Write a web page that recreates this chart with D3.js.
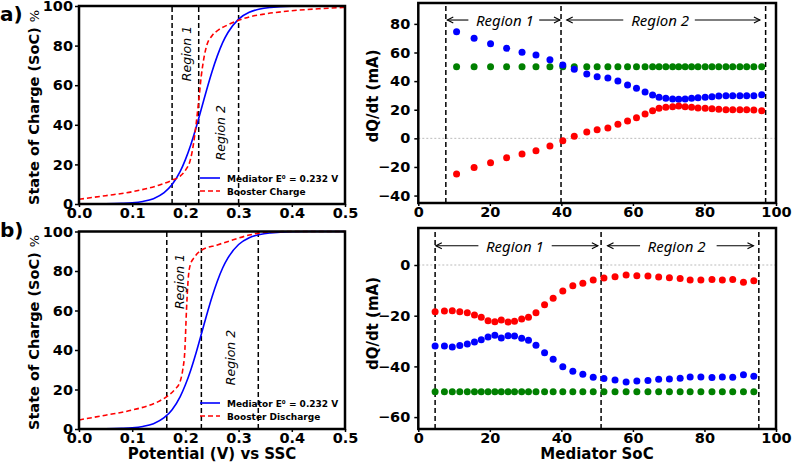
<!DOCTYPE html>
<html>
<head>
<meta charset="utf-8">
<script src="https://cdn.jsdelivr.net/npm/d3@7"></script>
<style>
  body { margin: 0; background: #fff; }
  text { font-family: "DejaVu Sans", sans-serif; }
</style>
</head>
<body>
<div id="plot"></div>
<script>
// ---- left panels: SoC vs potential ----
const mediatorV   = [0, 0.05, 0.08, 0.10, 0.12, 0.14, 0.16, 0.175, 0.19, 0.20, 0.21, 0.22, 0.232, 0.24, 0.25, 0.26, 0.27, 0.28, 0.30, 0.32, 0.34, 0.36, 0.40, 0.45, 0.50];
const mediatorSoC = [0, 0.1, 0.3, 0.6, 1.3, 2.7, 5.7, 9.8, 16.3, 22.4, 29.8, 38.5, 50, 57.7, 66.8, 74.8, 81.5, 86.6, 93.4, 96.8, 98.5, 99.3, 99.9, 100, 100];

const chargeV   = [0, 0.05, 0.10, 0.15, 0.175, 0.19, 0.20, 0.21, 0.215, 0.22, 0.225, 0.23, 0.235, 0.24, 0.25, 0.26, 0.28, 0.30, 0.32, 0.35, 0.40, 0.45, 0.50];
const chargeSoC = [2.4, 4.2, 6.2, 9.5, 12, 14, 17, 23, 30, 40, 52, 65, 74, 80, 85, 87.5, 90.5, 92.8, 94.5, 96, 97.6, 98.6, 99.3];

const dischargeV   = [0, 0.05, 0.10, 0.15, 0.165, 0.18, 0.19, 0.195, 0.199, 0.202, 0.205, 0.209, 0.217, 0.23, 0.26, 0.29, 0.32, 0.35, 0.40, 0.50];
const dischargeSoC = [4.6, 7, 9.6, 14, 16.4, 20, 24, 30, 40, 60, 75, 83, 87, 90.5, 93.2, 95.8, 98.2, 99.6, 100, 100];

const regionLinesA = [0.175, 0.225, 0.30];
const regionLinesB = [0.165, 0.23, 0.337];

// ---- right panels: dQ/dt vs mediator SoC ----
const socA      = [10.7, 15.6, 20.2, 24.7, 29.0, 32.9, 36.8, 40.4, 43.6, 47.1, 50.0, 53.0, 55.8, 58.5, 61.0, 63.4, 65.5, 67.3, 69.2, 71.1, 72.8, 74.6, 76.4, 78.2, 80.2, 82.1, 84.0, 86.0, 87.9, 89.9, 91.8, 93.8, 96.0];
const mediatorA = [74.5, 69.9, 66.2, 62.9, 60.1, 58.3, 55.0, 51.3, 48.3, 45.0, 43.1, 42.2, 40.1, 37.3, 35.0, 32.4, 30.3, 28.7, 28.0, 27.5, 27.3, 27.5, 28.0, 28.4, 28.7, 29.1, 29.6, 29.8, 29.8, 29.8, 29.8, 29.8, 30.5];
const boosterA  = [-24.9, -20.3, -17.0, -13.5, -10.9, -8.6, -5.4, -1.7, 1.4, 4.4, 6.0, 7.2, 9.8, 12.1, 14.4, 17.0, 19.3, 21.0, 21.7, 22.1, 22.6, 22.1, 21.7, 21.2, 21.0, 20.7, 20.3, 20.0, 20.0, 20.0, 20.0, 19.8, 19.3];
const totalA    = [50, 50, 50, 50, 50, 50, 50, 50, 50, 50, 50, 50, 50, 50, 50, 50, 50, 50, 50, 50, 50, 50, 50, 50, 50, 50, 50, 50, 50, 50, 50, 50, 50];

const socB      = [4.7, 7.3, 9.5, 11.6, 13.7, 15.7, 17.6, 19.5, 21.4, 23.2, 25.1, 26.9, 28.9, 30.8, 32.9, 35.3, 37.7, 40.4, 43.2, 46.0, 48.9, 51.9, 55.0, 58.1, 61.1, 64.2, 67.2, 70.2, 73.2, 76.0, 79.0, 82.1, 85.0, 87.9, 90.9, 93.8];
const mediatorB = [-32.0, -32.0, -32.3, -31.8, -31.2, -30.4, -29.5, -28.4, -27.7, -28.8, -27.9, -28.0, -28.9, -29.7, -31.7, -34.6, -37.2, -40.1, -41.9, -43.1, -44.3, -44.8, -45.4, -46.2, -45.8, -45.6, -45.1, -45.0, -44.7, -44.2, -44.2, -44.4, -44.2, -44.3, -43.3, -43.9];
const boosterB  = [-18.4, -18.1, -18.0, -18.4, -18.8, -19.7, -20.6, -22.0, -22.4, -21.7, -22.5, -22.2, -21.3, -20.6, -18.8, -15.7, -13.1, -10.3, -8.2, -7.2, -5.9, -5.1, -4.6, -3.9, -4.2, -4.3, -4.7, -5.0, -5.3, -5.9, -5.9, -5.7, -5.9, -5.7, -6.8, -6.2];
const totalB    = [-50, -50, -50, -50, -50, -50, -50, -50, -50, -50, -50, -50, -50, -50, -50, -50, -50, -50, -50, -50, -50, -50, -50, -50, -50, -50, -50, -50, -50, -50, -50, -50, -50, -50, -50, -50];

const boundsA = [7.7, 39.9, 97.1];
const boundsB = [4.7, 51.1, 95.2];

// region arrows (SoC units): [tail, tip]
const arrowsA = [[14.0, 8.1], [33.8, 39.6], [57.3, 41.5], [77.3, 95.5]];
const arrowsB = [[16.8, 4.9], [37.3, 50.2], [62.0, 52.9], [83.4, 93.7]];
const regionTextA = [["Region 1", 24.2], ["Region 2", 67.6]];
const regionTextB = [["Region 1", 27.0], ["Region 2", 72.2]];

const width = 792;
const height = 467;

const svg = d3.select("#plot")
  .append("svg")
  .attr("width", width)
  .attr("height", height);

svg.append("rect").attr("width", width).attr("height", height).attr("fill", "#fff");

// scales
const xL = d3.scaleLinear().domain([0, 0.5]).range([79, 345]);
const yLtop = d3.scaleLinear().domain([0, 100]).range([204, 6]);
const yLbot = d3.scaleLinear().domain([0, 100]).range([429, 231.5]);

const xR = d3.scaleLinear().domain([0, 100]).range([418.3, 776]);
const yRtop = d3.scaleLinear().domain([-45.2, 94.6]).range([203, 3]);
const yRbot = d3.scaleLinear().domain([-64.7, 14.6]).range([429, 228]);

function styleAxis(g) {
  g.selectAll("path").remove();
  g.selectAll("line").attr("stroke", "#000").attr("stroke-width", 1.5);
  g.selectAll("text")
    .attr("fill", "#000")
    .style("font-family", "DejaVu Sans")
    .style("font-weight", "bold")
    .style("font-size", "14.5px");
}

function frame(x, y) {
  svg.append("rect")
    .attr("x", x.range()[0])
    .attr("y", y.range()[1])
    .attr("width", x.range()[1] - x.range()[0])
    .attr("height", y.range()[0] - y.range()[1])
    .attr("fill", "none")
    .attr("stroke", "#000")
    .attr("stroke-width", 2.5);
}

// ---------- left panels ----------
function socPanel(y, boosterV, boosterSoC, lines, boosterName, regionPos, labelStart) {
  const bottom = y.range()[0];

  svg.append("g")
    .attr("transform", `translate(0,${bottom})`)
    .call(d3.axisBottom(xL).tickValues([0, 0.1, 0.2, 0.3, 0.4, 0.5]).tickFormat(d3.format(".1f")).tickSize(3).tickPadding(1))
    .call(styleAxis);

  svg.append("g")
    .attr("transform", `translate(${xL.range()[0]},0)`)
    .call(d3.axisLeft(y).tickValues([0, 20, 40, 60, 80, 100]).tickSize(4).tickPadding(2))
    .call(styleAxis);

  // region boundaries
  svg.append("g").selectAll("line")
    .data(lines)
    .join("line")
    .attr("x1", d => xL(d)).attr("x2", d => xL(d))
    .attr("y1", y(0)).attr("y2", y(100))
    .attr("stroke", "#000")
    .attr("stroke-width", 1.5)
    .attr("stroke-dasharray", "5,3");

  const line = d3.line().curve(d3.curveMonotoneX);

  svg.append("path")
    .attr("d", line(mediatorV.map((v, i) => [xL(v), y(mediatorSoC[i])])))
    .attr("fill", "none")
    .attr("stroke", "#0000ff")
    .attr("stroke-width", 1.6);

  svg.append("path")
    .attr("d", line(boosterV.map((v, i) => [xL(v), y(boosterSoC[i])])))
    .attr("fill", "none")
    .attr("stroke", "#ff0000")
    .attr("stroke-width", 1.6)
    .attr("stroke-dasharray", "5,3");

  // region labels
  regionPos.forEach(([t, v, s]) => {
    svg.append("text")
      .attr("transform", `translate(${xL(v)},${y(s)}) rotate(-90)`)
      .attr("text-anchor", "middle")
      .attr("dominant-baseline", "central")
      .style("font-style", "italic")
      .style("font-size", "12.5px")
      .text(t);
  });

  // legend
  const lg = svg.append("g").attr("transform", `translate(200,${bottom - 26})`);
  lg.append("line").attr("x1", 0).attr("x2", 20).attr("y1", 0).attr("y2", 0)
    .attr("stroke", "#0000ff").attr("stroke-width", 1.6);
  lg.append("line").attr("x1", 0).attr("x2", 20).attr("y1", 13).attr("y2", 13)
    .attr("stroke", "#ff0000").attr("stroke-width", 1.6).attr("stroke-dasharray", "5,3");
  lg.append("text").attr("x", 27).attr("y", 3.5)
    .style("font-size", "9px").style("font-weight", "bold")
    .text("Mediator E⁰ = 0.232 V");
  lg.append("text").attr("x", 27).attr("y", 16.5)
    .style("font-size", "9px").style("font-weight", "bold")
    .text(boosterName);

  // y label
  const yl = svg.append("text")
    .attr("transform", `translate(39,${labelStart}) rotate(-90)`)
    .style("font-size", "14.5px")
    .style("font-weight", "bold");
  yl.append("tspan").text("State of Charge (SoC) ");
  yl.append("tspan").style("font-weight", "normal").style("font-size", "13px").text("%");

  frame(xL, y);
}

socPanel(yLtop, chargeV, chargeSoC, regionLinesA, "Booster Charge",
  [["Region 1", 0.202, 76], ["Region 2", 0.266, 36]], 205);
socPanel(yLbot, dischargeV, dischargeSoC, regionLinesB, "Booster Discharge",
  [["Region 1", 0.189, 74.7], ["Region 2", 0.2845, 36.2]], 430);

// ---------- right panels ----------
function ratePanel(y, ticks, soc, med, boost, total, bounds, arrows, texts, arrowY, labelY) {
  const bottom = y.range()[0];
  const top = y.range()[1];

  svg.append("g")
    .attr("transform", `translate(0,${bottom})`)
    .call(d3.axisBottom(xR).tickValues([0, 20, 40, 60, 80, 100]).tickSize(3).tickPadding(1))
    .call(styleAxis);

  svg.append("g")
    .attr("transform", `translate(${xR.range()[0]},0)`)
    .call(d3.axisLeft(y).tickValues(ticks).tickSize(4).tickPadding(4))
    .call(styleAxis);

  // zero line
  svg.append("line")
    .attr("x1", xR(0)).attr("x2", xR(100))
    .attr("y1", y(0)).attr("y2", y(0))
    .attr("stroke", "#bbb")
    .attr("stroke-width", 1)
    .attr("stroke-dasharray", "2,2");

  svg.append("g").selectAll("line")
    .data(bounds)
    .join("line")
    .attr("x1", d => xR(d)).attr("x2", d => xR(d))
    .attr("y1", bottom).attr("y2", top)
    .attr("stroke", "#000")
    .attr("stroke-width", 1.5)
    .attr("stroke-dasharray", "5,3");

  const series = [[total, "#008000"], [med, "#0000ff"], [boost, "#ff0000"]];
  series.forEach(([vals, col]) => {
    svg.append("g").selectAll("circle")
      .data(vals)
      .join("circle")
      .attr("cx", (d, i) => xR(soc[i]))
      .attr("cy", d => y(d))
      .attr("r", 3.5)
      .attr("fill", col);
  });

  // region arrows
  const ay = y(arrowY);
  arrows.forEach(([tail, tip]) => {
    const x0 = xR(tail), x1 = xR(tip);
    const dir = x1 > x0 ? -1 : 1;
    svg.append("line")
      .attr("x1", x0).attr("x2", x1).attr("y1", ay).attr("y2", ay)
      .attr("stroke", "#000").attr("stroke-width", 1.1);
    svg.append("path")
      .attr("d", `M${x1 + dir * 6},${ay - 3}L${x1},${ay}L${x1 + dir * 6},${ay + 3}`)
      .attr("fill", "none").attr("stroke", "#000").attr("stroke-width", 1.1);
  });

  texts.forEach(([t, v]) => {
    svg.append("text")
      .attr("x", xR(v))
      .attr("y", ay)
      .attr("text-anchor", "middle")
      .attr("dominant-baseline", "central")
      .style("font-family", "Noto Sans")
      .style("font-style", "italic")
      .style("font-size", "15px")
      .text(t);
  });

  svg.append("text")
    .attr("transform", `translate(378,${labelY}) rotate(-90)`)
    .attr("text-anchor", "middle")
    .style("font-size", "15px")
    .style("font-weight", "bold")
    .text("dQ/dt (mA)");

  frame(xR, y);
}

ratePanel(yRtop, [-40, -20, 0, 20, 40, 60, 80], socA, mediatorA, boosterA, totalA,
  boundsA, arrowsA, regionTextA, 82.7, 96);
ratePanel(yRbot, [-60, -40, -20, 0], socB, mediatorB, boosterB, totalB,
  boundsB, arrowsB, regionTextB, 7.6, 323.5);

// x labels
svg.append("text")
  .attr("x", 212).attr("y", 459)
  .attr("text-anchor", "middle")
  .style("font-size", "15px").style("font-weight", "bold")
  .text("Potential (V) vs SSC");

svg.append("text")
  .attr("x", 597).attr("y", 459)
  .attr("text-anchor", "middle")
  .style("font-size", "15px").style("font-weight", "bold")
  .text("Mediator SoC");

// panel letters
svg.append("text").attr("x", 0).attr("y", 21)
  .style("font-size", "20px").style("font-weight", "bold").text("a)");
svg.append("text").attr("x", 0).attr("y", 237)
  .style("font-size", "20px").style("font-weight", "bold").text("b)");
</script>
</body>
</html>
